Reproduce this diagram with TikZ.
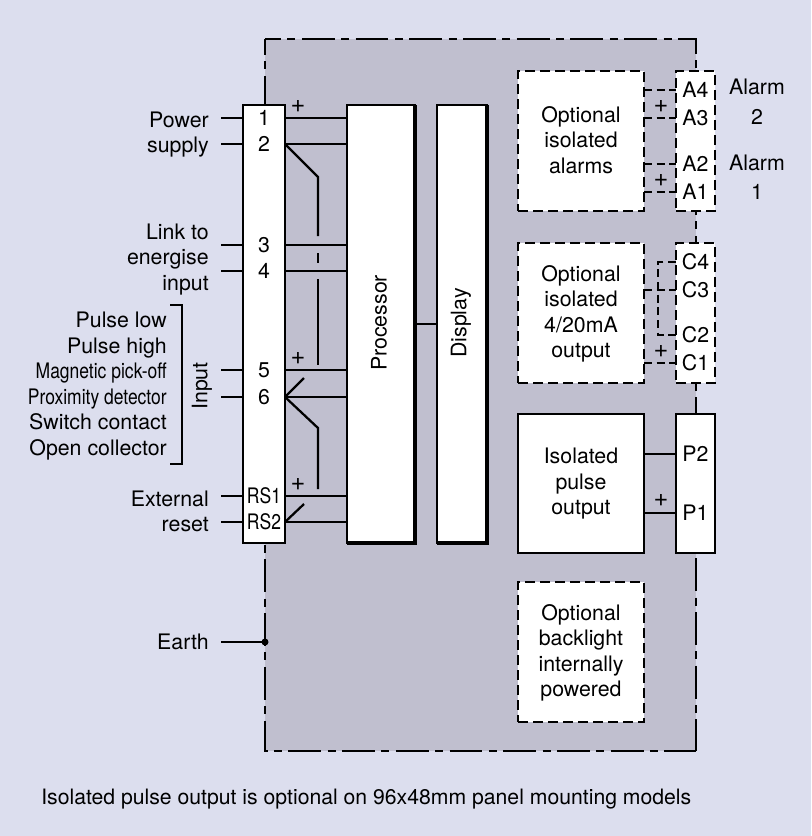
\documentclass[tikz,border=0pt]{standalone}
\usepackage{fontspec}
\setmainfont{TeX Gyre Heros}
\newfontfamily\condfont[FakeStretch=0.82]{TeX Gyre Heros}
\usetikzlibrary{positioning}
\def\px{0.75pt}
\definecolor{pagebg}{RGB}{220,222,238}
\definecolor{casebg}{RGB}{192,191,207}
\tikzset{
wire/.style={line width=1.7pt},
heavy/.style={line width=3pt},
dashwire/.style={line width=1.7pt, dash pattern=on 6pt off 3.5pt},
casing/.style={line width=1.7pt, dash pattern=on 24.7pt off 4.8pt on 6pt off 4.8pt, dash phase=12.7pt},
lab/.style={font=\fontsize{16}{19.1}\selectfont, align=right, inner sep=0pt},
midlab/.style={font=\fontsize{16}{19.1}\selectfont, align=center, inner sep=0pt},
pluslab/.style={font=\fontsize{19}{19}\selectfont, inner sep=0pt},
solidbox/.style={draw, line width=1.7pt, fill=white, inner sep=0pt, outer sep=0pt},
dashbox/.style={solidbox, dash pattern=on 7.5pt off 3.75pt},
}
\begin{document}
\begin{tikzpicture}[x=\px, y=-\px]

\useasboundingbox (0,0) rectangle (811,836);
\fill[pagebg] (0,0) rectangle (811,836);
\coordinate (caseTL) at (265,39);
\coordinate (caseTR) at (696,39);
\coordinate (caseBR) at (696,751);
\coordinate (caseBL) at (265,751);
\fill[casebg] (caseTL) rectangle (caseBR);
\draw[casing] (caseTL) -- (caseTR) -- (caseBR);
\draw[casing] (caseTL) -- (caseBL) -- (caseBR);

\node[solidbox, minimum width=42*\px, minimum height=438*\px] (ltb) at (264,324) {};
\node[solidbox, minimum width=68*\px, minimum height=438*\px] (proc) at (381,324) {};
\node[solidbox, minimum width=50*\px, minimum height=438*\px] (disp) at (462,324) {};
\draw[heavy] (proc.north east) -- (proc.south east) -- (proc.south west);
\draw[heavy] (disp.north east) -- (disp.south east) -- (disp.south west);
\node[midlab, rotate=90] (proclab) at (379,323) {Processor};
\node[midlab, rotate=90] (displab) at (461,323) {Display};

\node[dashbox, minimum width=126*\px, minimum height=140*\px] (alarms) at (581,141) {};
\node[dashbox, minimum width=126*\px, minimum height=140*\px] (analog) at (581,313) {};
\node[solidbox, minimum width=126*\px, minimum height=139*\px] (pulse) at (581,483.5) {};
\node[dashbox, minimum width=126*\px, minimum height=140*\px] (backlight) at (581,652) {};
\node[midlab] (alarmstxt) at (581,140) {Optional\\isolated\\alarms};
\node[midlab] (analogtxt) at (581,314) {Optional\\isolated\\4/20mA\\output};
\node[midlab] (pulsetxt) at (581,484) {Isolated\\pulse\\output};
\node[midlab] (backtxt) at (581,653) {Optional\\backlight\\internally\\powered};

\node[dashbox, minimum width=39*\px, minimum height=140*\px] (atb) at (695.5,141) {};
\node[dashbox, minimum width=39*\px, minimum height=140*\px] (ctb) at (695.5,313) {};
\node[solidbox, minimum width=39*\px, minimum height=139*\px] (ptb) at (695.5,483.5) {};

\coordinate (leadL) at (221,0);
\coordinate (leadB) at (221,642);
\coordinate (earth) at (265,642);

\foreach \n/\l/\y in {t1/1/118,t2/2/144,t3/3/245,t4/4/271,t5/5/370,t6/6/397}
\node[midlab] (\n) at (264,\y) {\l};
\node[midlab, font=\condfont\fontsize{16}{19}\selectfont] (rs1) at (264,496) {RS1};
\node[midlab, font=\condfont\fontsize{16}{19}\selectfont] (rs2) at (264,522) {RS2};

\foreach \n in {t1,t2,t3,t4,t5,t6,rs1,rs2}{
\draw[wire] (\n -| leadL) -- (\n -| ltb.west);
\draw[wire] (\n -| ltb.east) -- (\n -| proc.west);
}
\draw[wire] (proc.east |- disp.center) -- (disp.west);

% links between the terminals
\coordinate (k2) at (318,177);
\coordinate (k2a) at (318,236);
\coordinate (k2b) at (318,253);
\coordinate (k2c) at (318,263);
\coordinate (k2d) at (318,279);
\coordinate (k2e) at (318,365);
\coordinate (k6) at (318,428);
\coordinate (k6a) at (318,489);
\coordinate (k6b) at (304,378);
\coordinate (krs) at (304,504);
\draw[wire] (t2 -| ltb.east) -- (k2) -- (k2a);
\draw[wire] (k2b) -- (k2c);
\draw[wire] (k2d) -- (k2e);
\draw[wire] (t6 -| ltb.east) -- (k6) -- (k6a);
\draw[wire] (t6 -| ltb.east) -- (k6b);
\draw[wire] (rs2 -| ltb.east) -- (krs);

\draw[wire] (leadB) -- (earth);
\fill (earth) circle (3.5);

\foreach \n/\l/\y in {a4/A4/90,a3/A3/118,a2/A2/164,a1/A1/192,c4/C4/262,c3/C3/290,c2/C2/335,c1/C1/363,p2/P2/454,p1/P1/513}
\node[midlab] (\n) at (695.5,\y) {\l};

\foreach \n in {a4,a3,a2,a1}
\draw[dashwire] (\n -| alarms.east) -- (\n -| atb.west);
\foreach \n in {c3,c1}
\draw[dashwire] (\n -| analog.east) -- (\n -| ctb.west);
\coordinate (cl) at (658,0);
\draw[dashwire] (c4 -| ctb.west) -- (c4 -| cl) -- (c2 -| cl) -- (c2 -| ctb.west);
\foreach \n in {p2,p1}
\draw[wire] (\n -| pulse.east) -- (\n -| ptb.west);

\foreach \x/\y in {298/106,298/358,298/484,661/106,661/180,661/351,661/500}
\node[pluslab] at (\x,\y) {+};

\node[midlab] (alarm2) at (757,101.5) {Alarm\\[3pt]2};
\node[midlab] (alarm1) at (757,177) {Alarm\\[3pt]1};

\node[lab, anchor=east] (power) at (209,134.5) {Power\\supply};
\node[lab, anchor=east] (link) at (209,259.5) {Link to\\energise\\input};
\node[lab, anchor=east] (extreset) at (209,511.5) {External\\reset};
\node[lab, anchor=east] (earthlab) at (209,642) {Earth};
\node[lab, anchor=east] (inputs) at (167,386) {Pulse low\\Pulse high\\{\condfont Magnetic pick-off}\\{\condfont Proximity detector}\\Switch contact\\Open collector};
\node[midlab, rotate=90] (inputlab) at (202,386) {Input};
\coordinate (brt) at (170,305);
\coordinate (brr) at (182,0);
\coordinate (brb) at (170,464);
\draw[wire] (brt) -- (brt -| brr) -- (brb -| brr) -- (brb);

\node[midlab, anchor=west, font=\fontsize{15.9}{19}\selectfont] (note) at (41,799) {Isolated pulse output is optional on 96x48mm panel mounting models};

\end{tikzpicture}
\end{document}
